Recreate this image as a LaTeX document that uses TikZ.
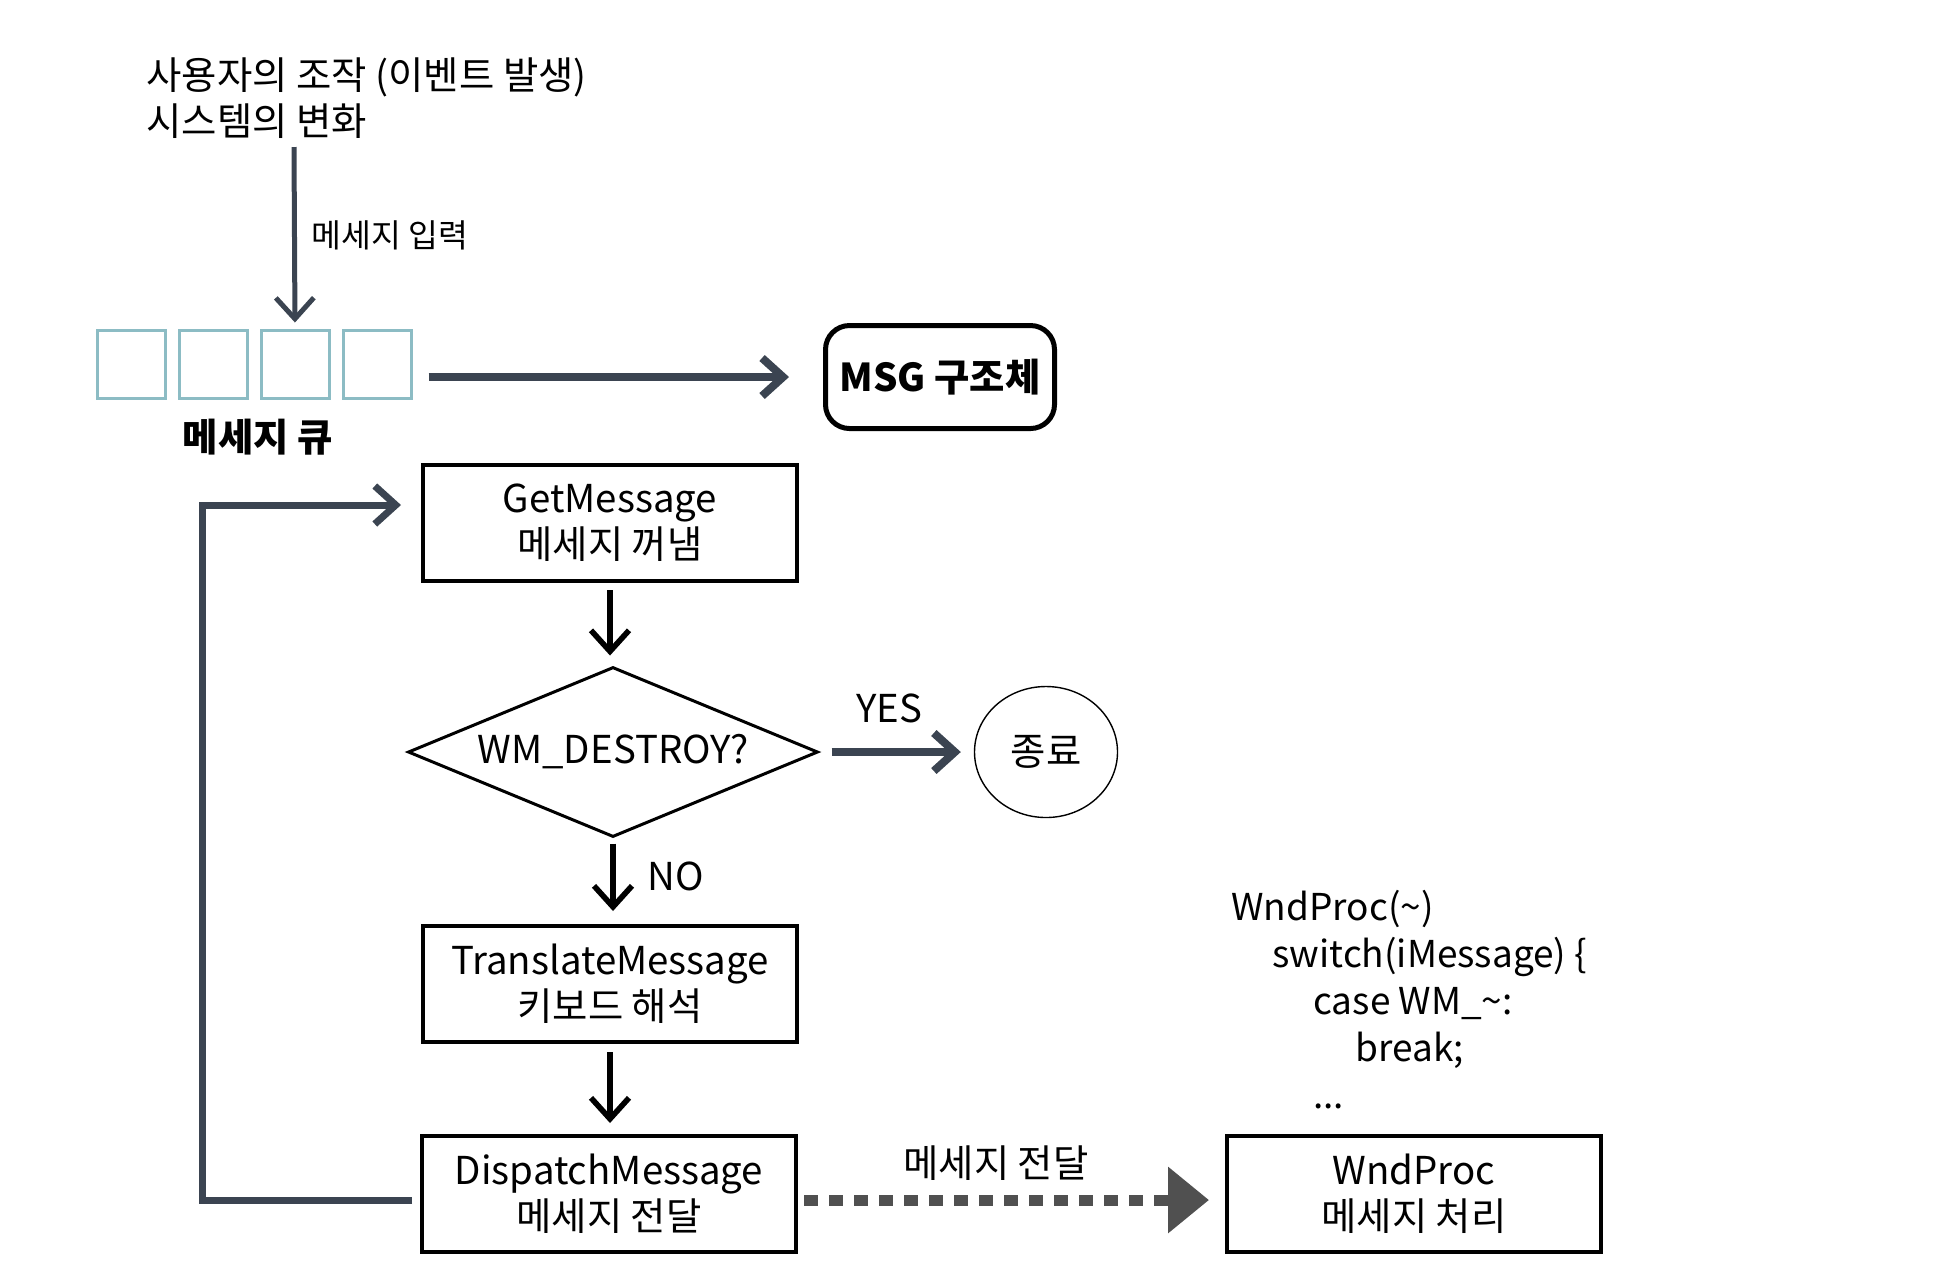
\documentclass[tikz,border=0pt]{standalone}
\usepackage{fontspec}
\setmainfont{Noto Sans CJK KR}
\usetikzlibrary{arrows.meta, shapes.geometric, calc}
\definecolor{arrowgray}{RGB}{59,68,81}
\definecolor{queueteal}{RGB}{140,188,196}
\definecolor{dashgray}{RGB}{80,80,80}
\newcommand{\boxfont}{\fontsize{19.2}{23}\selectfont}

\begin{document}
\begin{tikzpicture}[x=0.5pt, y=-0.5pt, font=\boxfont,
	procbox/.style={draw, line width=2pt, minimum width=187pt, minimum height=58pt, align=center, inner sep=0pt},
	qbox/.style={draw=queueteal, line width=1.5pt, minimum size=34pt, inner sep=0pt},
	boldtext/.style={font=\boxfont\bfseries},
	barb/.style={-{Straight Barb[length=10.5pt, width=19pt]}},
	grayarrow/.style={barb, draw=arrowgray, line width=3.5pt},
	blackarrow/.style={barb, line width=2.8pt}]
	\useasboundingbox (0,0) rectangle (1953,1282);

	% where the messages come from
	\node [anchor=west, align=left, inner sep=0pt] (src) at (146,98) {사용자의 조작 (이벤트 발생)\\시스템의 변화};
	\coordinate (srcend) at (294,147);

	% message queue
	\foreach \i in {0,...,3}
		\node [qbox] (q\i) at (131+82*\i,364) {};
	\node [boldtext] (qname) at (258,437) {메세지 큐};
	\node [draw, line width=2.5pt, rounded corners=12pt, minimum width=114.5pt, minimum height=51.5pt, boldtext] (msg) at (940,377) {MSG 구조체};

	% message loop
	\node [procbox] (get) at (610,523) {GetMessage\\메세지 꺼냄};
	\node [draw, diamond, aspect=2.4, line width=1.5pt, minimum width=205pt, minimum height=85pt, inner sep=0pt] (test) at (613,752) {WM\_DESTROY?};
	\node [draw, ellipse, line width=0.7pt, minimum width=71.5pt, minimum height=65.5pt] (stop) at (1046,752) {종료};
	\node [procbox] (trans) at (610,984) {TranslateMessage\\키보드 해석};
	\node [procbox] (disp) at (609,1194) {DispatchMessage\\메세지 전달};
	\node [procbox] (wnd) at (1414,1194) {WndProc\\메세지 처리};

	% labels
	\node [font=\fontsize{16.2}{19}\selectfont] (inlabel) at (390,235) {메세지 입력};
	\node (yes) at (889,708) {YES};
	\node (no) at (676,876) {NO};
	\node (sendlabel) at (996,1163) {메세지 전달};
	\node [anchor=north west, align=left, inner sep=0pt, font=\fontsize{18.5}{23.5}\selectfont] (code) at (1231,890)
		{WndProc(\textasciitilde)\\\hspace*{20.5pt}switch(iMessage) \{\\\hspace*{41pt}case WM\_\textasciitilde:\\\hspace*{62pt}break;\\\hspace*{41pt}...};

	% arrows
	\draw [grayarrow, line width=2.5pt, shorten >=3pt] (srcend) -- (q2.north);
	\draw [grayarrow, line width=4pt, shorten <=8pt, shorten >=17pt] (q3.east |- msg.west) -- (msg.west);
	\draw [blackarrow, shorten <=3.5pt, shorten >=5pt] (get.south) -- (get.south |- test.north);
	\draw [grayarrow, line width=4pt, shorten <=6pt, shorten >=6.5pt] (test.east) -- (stop.west);
	\draw [blackarrow, shorten <=2.5pt, shorten >=6.5pt] (test.south) -- (test.south |- trans.north);
	\draw [blackarrow, shorten <=4pt, shorten >=5.5pt] (trans.south) -- (trans.south |- disp.north);

	\coordinate (loopbot) at (202,1200);
	\coordinate (looptop) at (202,505);
	\draw [grayarrow, shorten <=4pt, shorten >=10pt] (disp.west |- loopbot) -- (loopbot) -- (looptop) -- (looptop -| get.west);

	\draw [dashgray, line width=5.5pt, dash pattern=on 7pt off 5.5pt, -{Triangle[length=20.5pt, width=32pt]}, shorten <=3pt, shorten >=8pt] (disp.east |- loopbot) -- (wnd.west |- loopbot);

\end{tikzpicture}
\end{document}
